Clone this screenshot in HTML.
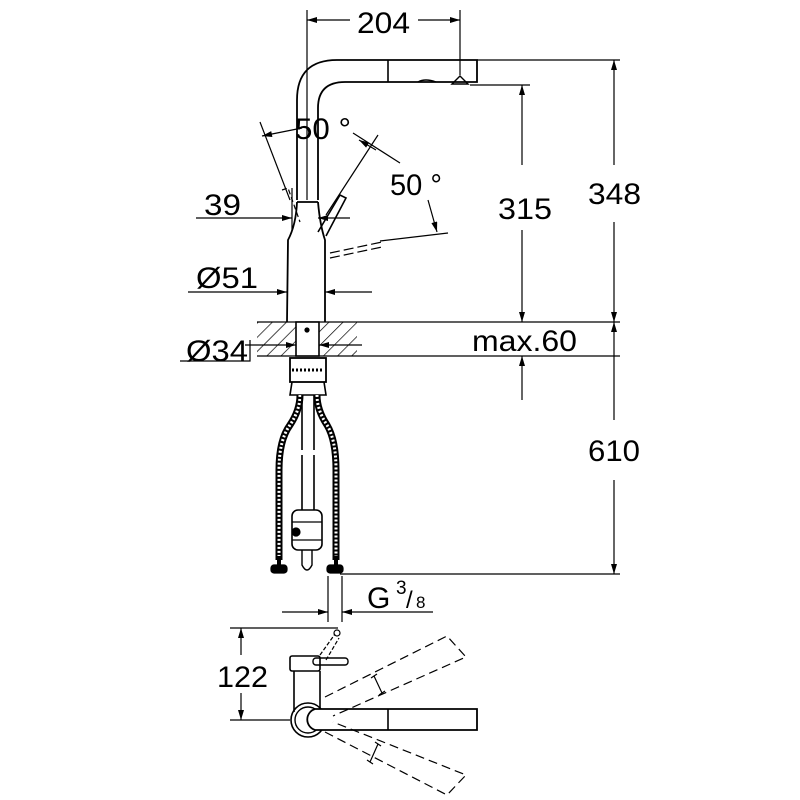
<!DOCTYPE html>
<html><head><meta charset="utf-8"><style>
html,body{margin:0;padding:0;background:#fff}
svg{display:block}
text{font-family:"Liberation Sans",sans-serif;fill:#000}
</style></head><body>
<svg width="800" height="800" viewBox="0 0 800 800" xmlns="http://www.w3.org/2000/svg">
<defs>
<marker id="a" viewBox="0 0 10 6" refX="10" refY="3" markerWidth="14" markerHeight="6" markerUnits="userSpaceOnUse" orient="auto"><path d="M0,0 L10,3 L0,6 z" fill="#000"/></marker>
<pattern id="h" width="10" height="10" patternUnits="userSpaceOnUse" patternTransform="rotate(45)"><line x1="0" y1="0" x2="0" y2="10" stroke="#000" stroke-width="1.4"/></pattern>
</defs>
<g stroke="#000" fill="none" stroke-width="1.2">
<line x1="307" y1="10" x2="307" y2="200"/>
<line x1="460" y1="10" x2="460" y2="75"/>
<line x1="350" y1="20" x2="307" y2="20" marker-end="url(#a)"/>
<line x1="418" y1="20" x2="460" y2="20" marker-end="url(#a)"/>
<path d="M297,200 L297,100 Q297,60 337,60 L477,60 L477,82 L345,82 Q318,82 318,108 L318,200" stroke-width="1.8"/>
<line x1="388" y1="60" x2="388" y2="82" stroke-width="1.6"/>
<path d="M452,84 L460,76 L468,84 z" stroke-width="1.4"/>
<path d="M418,82 Q425,78 436,82" stroke-width="1.4"/>
<line x1="477" y1="60" x2="620" y2="60"/>
<line x1="470" y1="85" x2="530" y2="85"/>
<line x1="297" y1="202" x2="318" y2="202" stroke-width="1.8"/>
<path d="M297,202 Q296,225 288,240 L287,322 M318,202 Q320,225 325,240 L325,322" stroke-width="1.8"/>
<path d="M318,232 L340,195 L346,198 L326,236" stroke-width="1.6"/>
<line x1="326" y1="215" x2="378" y2="135"/>
<path d="M282,190 L288,188 L300,222" stroke-width="1.2" stroke-dasharray="5,3"/>
<line x1="260" y1="122" x2="290" y2="200"/>
<line x1="292" y1="188" x2="292" y2="230"/>
<line x1="302" y1="128" x2="262" y2="136" marker-end="url(#a)"/>
<line x1="353" y1="133" x2="400" y2="163"/>
<line x1="360" y1="140" x2="377" y2="150" marker-end="url(#a)" transform="rotate(180 368 145)"/>
<line x1="330" y1="253" x2="382" y2="242" stroke-dasharray="10,4"/>
<line x1="330" y1="258" x2="382" y2="247" stroke-dasharray="10,4"/>
<line x1="380" y1="241" x2="448" y2="233"/>
<line x1="428" y1="200" x2="437" y2="232" marker-end="url(#a)"/>
<line x1="196" y1="218" x2="292" y2="218" marker-end="url(#a)"/>
<line x1="350" y1="218" x2="318" y2="218" marker-end="url(#a)"/>
<line x1="188" y1="292" x2="287" y2="292" marker-end="url(#a)"/>
<line x1="372" y1="292" x2="325" y2="292" marker-end="url(#a)"/>
<rect x="257" y="322" width="39" height="34" fill="url(#h)" stroke="none"/>
<rect x="319" y="322" width="38" height="34" fill="url(#h)" stroke="none"/>
<line x1="257" y1="322" x2="620" y2="322"/>
<line x1="257" y1="356" x2="620" y2="356"/>
<rect x="296" y="322" width="23" height="34" fill="#fff" stroke-width="1.6"/>
<circle cx="307" cy="330" r="2" fill="#000"/>
<line x1="245" y1="345" x2="296" y2="345" marker-end="url(#a)"/>
<line x1="362" y1="345" x2="319" y2="345" marker-end="url(#a)"/>
<polyline points="180,361 250,361 250,340"/>
<rect x="290" y="358" width="36" height="24" stroke-width="1.8" fill="#fff"/>
<line x1="292" y1="370" x2="324" y2="370" stroke-dasharray="2,2" stroke-width="3"/>
<path d="M292,382 L290,395 L326,395 L324,382" stroke-width="1.6"/>
<path d="M300,395 Q300,410 290,425 Q279,440 279,470 L279,560" stroke-width="7"/>
<path d="M300,395 Q300,410 290,425 Q279,440 279,470 L279,560" stroke-width="3" stroke="#fff" stroke-dasharray="2,2"/>
<path d="M317,395 Q317,410 327,425 Q336,440 336,470 L336,560" stroke-width="7"/>
<path d="M317,395 Q317,410 327,425 Q336,440 336,470 L336,560" stroke-width="3" stroke="#fff" stroke-dasharray="2,2"/>
<rect x="271" y="565" width="16" height="8" rx="3" fill="#000"/>
<rect x="327" y="565" width="16" height="8" rx="3" fill="#000"/>
<line x1="279" y1="556" x2="279" y2="566" stroke-width="4"/>
<line x1="336" y1="556" x2="336" y2="566" stroke-width="4"/>
<path d="M302,395 L302,450 M314,395 L314,450 M302,455 L302,510 M314,455 L314,510" stroke-width="1.6"/>
<rect x="292" y="510" width="30" height="40" rx="6" stroke-width="1.6" fill="#fff"/>
<line x1="292" y1="522" x2="322" y2="522"/>
<line x1="292" y1="540" x2="322" y2="540"/>
<circle cx="296" cy="532" r="4" fill="#000"/>
<path d="M302,550 L302,565 Q307,575 312,565 L312,550" stroke-width="1.4"/>
<line x1="328" y1="576" x2="328" y2="622"/>
<line x1="342" y1="576" x2="342" y2="622"/>
<line x1="340" y1="574" x2="620" y2="574"/>
<line x1="282" y1="612" x2="328" y2="612" marker-end="url(#a)"/>
<line x1="433" y1="612" x2="342" y2="612" marker-end="url(#a)"/>
<line x1="614" y1="165" x2="614" y2="60" marker-end="url(#a)"/>
<line x1="614" y1="222" x2="614" y2="322" marker-end="url(#a)"/>
<line x1="522" y1="165" x2="522" y2="85" marker-end="url(#a)"/>
<line x1="522" y1="230" x2="522" y2="322" marker-end="url(#a)"/>
<line x1="522" y1="400" x2="522" y2="356" marker-end="url(#a)"/>
<line x1="614" y1="420" x2="614" y2="322" marker-end="url(#a)"/>
<line x1="614" y1="480" x2="614" y2="574" marker-end="url(#a)"/>
<line x1="230" y1="628" x2="338" y2="628"/>
<line x1="230" y1="720" x2="290" y2="720"/>
<line x1="241" y1="655" x2="241" y2="628" marker-end="url(#a)"/>
<line x1="241" y1="693" x2="241" y2="720" marker-end="url(#a)"/>
<path d="M320,655 L335,634" stroke-dasharray="4,2"/><path d="M326,660 L339,638" stroke-dasharray="4,2"/>
<circle cx="337" cy="633" r="3"/>
<rect x="290" y="656" width="30" height="15" rx="2" stroke-width="1.6"/>
<rect x="313" y="658" width="35" height="7" rx="3" stroke-width="1.4"/>
<path d="M294,671 L294,712 M320,671 L320,712" stroke-width="1.6"/>
<circle cx="308" cy="720" r="17" stroke-width="1.6"/>
<circle cx="308" cy="720" r="13" stroke-width="1.4"/>
<path d="M315,709 L477,709 L477,730 L315,730 A11,11 0 0 1 315,709z" fill="#fff" stroke-width="1.8"/>
<line x1="388" y1="709" x2="388" y2="730" stroke-width="1.6"/>
<path d="M325,697 L447,636 L466,657 L333,716" stroke-dasharray="9,5"/>
<path d="M325,732 L447,795 L466,775 L333,722" stroke-dasharray="9,5"/>
<path d="M374,676 L382,693 M371,678 L377,674 M379,695 L385,691"/>
<path d="M378,744 L370,762 M375,742 L381,746 M367,760 L373,764"/>
</g>
<g font-size="30">
<text x="357" y="33" textLength="53" lengthAdjust="spacingAndGlyphs">204</text>
<text x="295" y="139" textLength="56" lengthAdjust="spacingAndGlyphs">50 °</text>
<text x="390" y="195" textLength="52" lengthAdjust="spacingAndGlyphs">50 °</text>
<text x="204" y="215" textLength="37" lengthAdjust="spacingAndGlyphs">39</text>
<text x="196" y="288" textLength="62" lengthAdjust="spacingAndGlyphs">Ø51</text>
<text x="186" y="361" textLength="62" lengthAdjust="spacingAndGlyphs">Ø34</text>
<text x="472" y="351" textLength="105" lengthAdjust="spacingAndGlyphs">max.60</text>
<text x="498" y="219" textLength="54" lengthAdjust="spacingAndGlyphs">315</text>
<text x="588" y="204" textLength="53" lengthAdjust="spacingAndGlyphs">348</text>
<text x="588" y="461" textLength="52" lengthAdjust="spacingAndGlyphs">610</text>
<text x="367" y="608">G</text>
<text x="396" y="594" font-size="19">3</text>
<text x="406" y="608" font-size="24">/</text>
<text x="416" y="608" font-size="17">8</text>
<text x="217" y="687" textLength="51" lengthAdjust="spacingAndGlyphs">122</text>
</g>
</svg>
</body></html>
